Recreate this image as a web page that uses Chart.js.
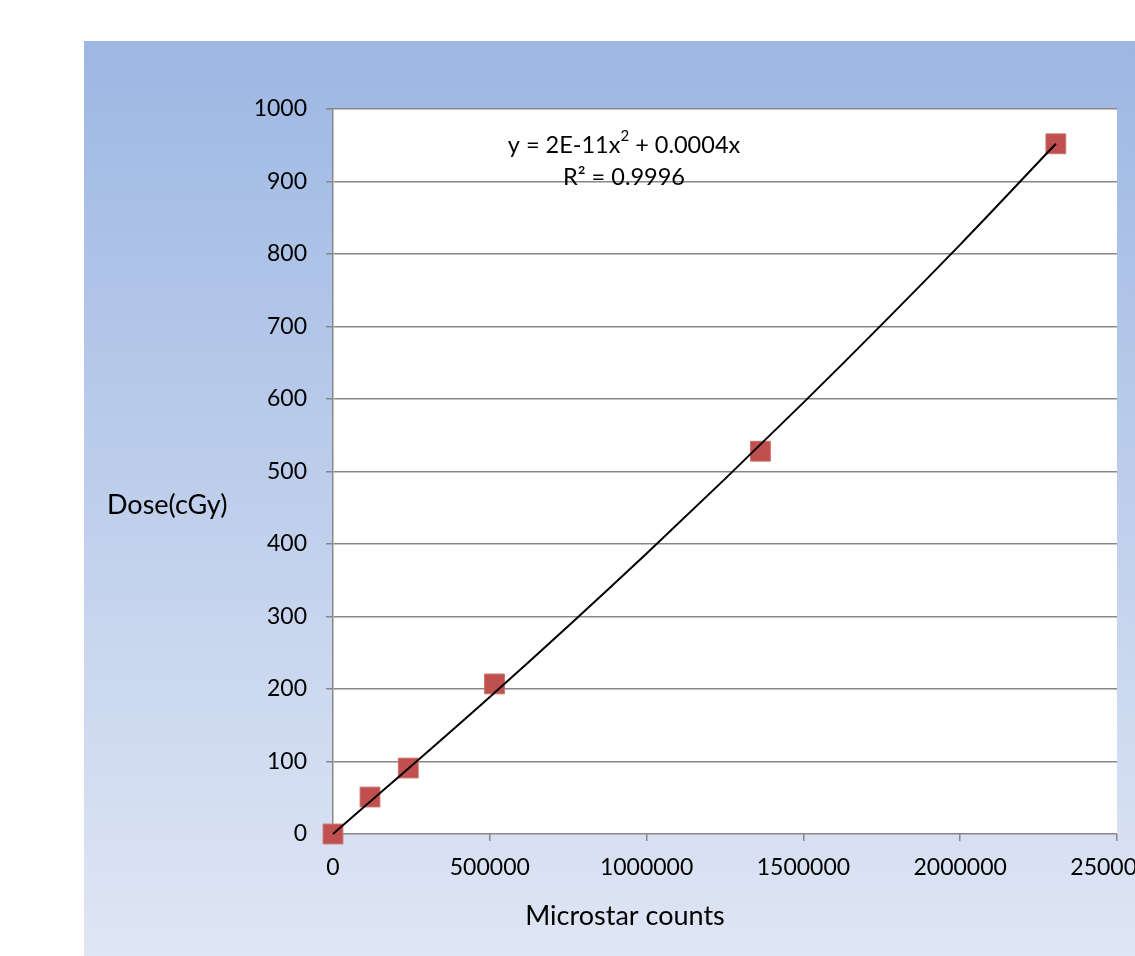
<!DOCTYPE html>
<html><head><meta charset="utf-8">
<script src="https://cdn.jsdelivr.net/npm/chart.js@4.4.1/dist/chart.umd.min.js"></script>
<style>html,body{margin:0;padding:0;background:#fff}#c{display:block}</style>
</head><body>
<canvas id="c" width="1135" height="956"></canvas>
<script>
// Data
const countsX = [0, 118000, 240000, 515000, 1363000, 2305000];
const doseY   = [0, 51, 91, 207, 528, 952];
// Trendline as drawn in the picture (read points along the fitted curve)
const trendX = [0, 500000, 1000000, 1500000, 2000000, 2305000];
const trendY = [0, 189, 387, 595, 813, 952];
const yTicks = [0,100,200,300,400,500,600,700,800,900,1000];
const xTicks = [0,500000,1000000,1500000,2000000,2500000];
const xTitle = 'Microstar counts';
const yTitle = 'Dose(cGy)';
const eqMain = 'y = 2E-11x', eqSup = '2', eqRest = ' + 0.0004x';
const r2Text = 'R\u00B2 = 0.9996';

const FONT = 'Lato, "Open Sans", sans-serif';

const bgPlugin = {
  id:'bg',
  beforeDraw(chart){
    const ctx = chart.ctx;
    ctx.save();
    ctx.fillStyle = '#ffffff';
    ctx.fillRect(0,0,chart.width,chart.height);
    const g = ctx.createLinearGradient(0,41,0,956);
    g.addColorStop(0,'rgb(157,183,227)');
    g.addColorStop(1,'rgb(223,230,244)');
    ctx.fillStyle = g;
    ctx.fillRect(84,41,chart.width-84,chart.height-41);
    const a = chart.chartArea;
    ctx.fillStyle = '#ffffff';
    ctx.fillRect(a.left,a.top,a.right-a.left,a.bottom-a.top);
    ctx.restore();
  },
  afterDraw(chart){
    const ctx = chart.ctx;
    ctx.save();
    ctx.fillStyle = '#000';
    ctx.font = '27px ' + FONT;
    ctx.textBaseline = 'middle';
    ctx.textAlign = 'left';
    ctx.fillText(yTitle, 107, 505);
    ctx.textAlign = 'center';
    ctx.fillText(xTitle, 625, 916);
    // equation
    const F = '23.5px ' + FONT, FS = '15px ' + FONT;
    ctx.font = F;
    const w1 = ctx.measureText(eqMain).width;
    ctx.font = FS;
    const w2 = ctx.measureText(eqSup).width;
    ctx.font = F;
    const w3 = ctx.measureText(eqRest).width;
    const total = w1+w2+w3;
    let x0 = 624 - total/2;
    ctx.textAlign = 'left';
    ctx.fillText(eqMain, x0, 145);
    ctx.font = FS;
    ctx.fillText(eqSup, x0+w1, 136);
    ctx.font = F;
    ctx.fillText(eqRest, x0+w1+w2, 145);
    ctx.textAlign = 'center';
    ctx.fillText(r2Text, 624, 177);
    ctx.restore();
  }
};

new Chart(document.getElementById('c'), {
  type:'scatter',
  data:{
    datasets:[
      {
        type:'line',
        data: trendX.map((x,i)=>({x, y: trendY[i]})),
        borderColor:'#000', borderWidth:2, pointRadius:0, fill:false,
        cubicInterpolationMode:'monotone', clip:false
      },
      {
        data: countsX.map((x,i)=>({x, y: doseY[i]})),
        pointStyle:'rect', pointRadius:14, pointHoverRadius:14,
        backgroundColor:'rgb(192,80,77)', borderColor:'rgb(205,110,107)', borderWidth:1,
        clip:false
      }
    ]
  },
  options:{
    responsive:false, animation:false,
    layout:{padding:{left:0,right:18,top:109,bottom:0}},
    plugins:{legend:{display:false}, tooltip:{enabled:false}},
    scales:{
      x:{
        type:'linear', min:0, max:2500000,
        afterBuildTicks(s){ s.ticks = xTicks.map(v=>({value:v})); },
        afterFit(s){ s.height = 122; s.paddingLeft=0; s.paddingRight=0; },
        grid:{drawOnChartArea:false, drawTicks:true, tickLength:7, color:'#878787', lineWidth:1.5},
        border:{display:false},
        ticks:{color:'#000', font:{family:FONT, size:23}, padding:13, maxRotation:0, autoSkip:false,
          callback:v=>String(v)}
      },
      y:{
        type:'linear', min:0, max:1000,
        afterBuildTicks(s){ s.ticks = yTicks.map(v=>({value:v})); },
        afterFit(s){ s.width = 333; s.paddingTop=0; s.paddingBottom=0; },
        grid:{drawTicks:true, tickLength:7, color:'#878787', lineWidth:1.5},
        border:{display:true, color:'#878787', width:1.5},
        ticks:{color:'#000', font:{family:FONT, size:23}, padding:19, autoSkip:false,
          callback:v=>String(v)}
      }
    }
  },
  plugins:[bgPlugin]
});
</script>
</body></html>
